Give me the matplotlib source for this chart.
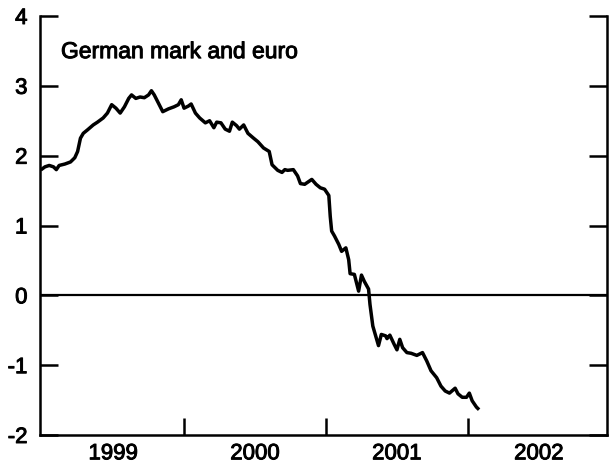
import matplotlib
matplotlib.use("Agg")
import matplotlib.pyplot as plt
import matplotlib.patheffects as pe

plt.rcParams['font.family'] = ['Liberation Sans', 'DejaVu Sans']

title = "German mark and euro"

# decimal years
dates = [1999.00, 1999.02, 1999.05, 1999.08, 1999.10, 1999.12, 1999.16, 1999.20,
         1999.23, 1999.25, 1999.27, 1999.29, 1999.32, 1999.36, 1999.39, 1999.43,
         1999.46, 1999.49, 1999.52, 1999.55, 1999.58, 1999.61, 1999.63, 1999.66,
         1999.69, 1999.72, 1999.75, 1999.77, 1999.79, 1999.82, 1999.85, 1999.89,
         1999.93, 1999.96, 1999.98, 2000.00, 2000.03, 2000.05, 2000.08, 2000.11,
         2000.15, 2000.18, 2000.21, 2000.23, 2000.26, 2000.29, 2000.32, 2000.34,
         2000.37, 2000.39, 2000.42, 2000.45, 2000.49, 2000.52, 2000.56, 2000.60,
         2000.62, 2000.66, 2000.69, 2000.71, 2000.73, 2000.77, 2000.80, 2000.82,
         2000.85, 2000.90, 2000.93, 2000.96, 2000.99, 2001.02, 2001.03, 2001.04,
         2001.06, 2001.09, 2001.11, 2001.14, 2001.16, 2001.17, 2001.20, 2001.23,
         2001.25, 2001.27, 2001.30, 2001.31, 2001.33, 2001.35, 2001.37, 2001.39,
         2001.42, 2001.43, 2001.45, 2001.48, 2001.50, 2001.52, 2001.54, 2001.57,
         2001.60, 2001.64, 2001.68, 2001.71, 2001.74, 2001.78, 2001.81, 2001.84,
         2001.87, 2001.91, 2001.93, 2001.96, 2001.99, 2002.01, 2002.03, 2002.06,
         2002.07]

values = [1.81, 1.84, 1.86, 1.84, 1.80, 1.86, 1.88, 1.91,
          1.97, 2.06, 2.25, 2.32, 2.37, 2.44, 2.48, 2.54,
          2.61, 2.73, 2.68, 2.61, 2.70, 2.82, 2.87, 2.82,
          2.84, 2.83, 2.87, 2.93, 2.87, 2.75, 2.63, 2.67,
          2.70, 2.73, 2.80, 2.68, 2.71, 2.74, 2.61, 2.54,
          2.47, 2.50, 2.40, 2.48, 2.47, 2.38, 2.35, 2.48,
          2.43, 2.38, 2.44, 2.32, 2.25, 2.20, 2.11, 2.06,
          1.87, 1.79, 1.76, 1.80, 1.79, 1.80, 1.71, 1.60,
          1.59, 1.66, 1.59, 1.54, 1.52, 1.43, 1.13, 0.92,
          0.85, 0.73, 0.63, 0.68, 0.51, 0.31, 0.30, 0.06,
          0.29, 0.20, 0.09, -0.13, -0.44, -0.58, -0.72, -0.56,
          -0.58, -0.62, -0.57, -0.70, -0.78, -0.63, -0.75, -0.82,
          -0.83, -0.86, -0.82, -0.94, -1.08, -1.18, -1.30, -1.37,
          -1.40, -1.33, -1.41, -1.46, -1.46, -1.40, -1.51, -1.60,
          -1.62]

years = ['1999', '2000', '2001', '2002']
year_starts = [1999, 2000, 2001, 2002]
y_ticks = [-2, -1, 0, 1, 2, 3, 4]

# scanned print looks a bit heavier than plain regular weight
thick = [pe.withStroke(linewidth=0.7, foreground='black')]

fig = plt.figure(figsize=(6.09, 4.70), dpi=100)
ax = fig.add_axes([40 / 609, 35 / 470, 567 / 609, 419 / 470])

ax.plot(dates, values, color='black', lw=2.5, solid_joinstyle='round', zorder=3)
ax.axhline(0, color='black', lw=1.6, zorder=2)

ax.set_xlim(1998.985, 2002.98)
ax.set_ylim(-2, 4)

for side in ['left', 'right', 'bottom']:
    ax.spines[side].set_linewidth(1.8)
ax.spines['top'].set_visible(False)

# y axis: ticks inward on both sides, long tick at the top
ax.set_yticks(y_ticks)
ax.set_yticklabels([str(v) for v in y_ticks])
ax.set_yticks([4], minor=True)
ax.tick_params(axis='y', which='major', direction='in', length=13, width=1.8,
               left=True, right=True, labelsize=16, pad=9)
ax.tick_params(axis='y', which='minor', direction='in', length=28, width=1.8,
               left=True, right=True)

# x axis: ticks at year boundaries, labels in the middle of each year
ax.set_xticks(year_starts[1:])
ax.set_xticklabels([])
ax.set_xticks([y + 0.5 for y in year_starts], minor=True)
ax.set_xticklabels(years, minor=True)
ax.tick_params(axis='x', which='major', direction='in', length=12, width=1.8)
ax.tick_params(axis='x', which='minor', length=0, labelsize=16, pad=6)

for lab in ax.get_xticklabels(minor=True) + ax.get_yticklabels():
    lab.set_path_effects(thick)

ax.text(0.037, 0.915, title, transform=ax.transAxes, fontsize=16.5,
        ha='left', va='center', path_effects=thick)

fig.savefig('out.png', dpi=100)
